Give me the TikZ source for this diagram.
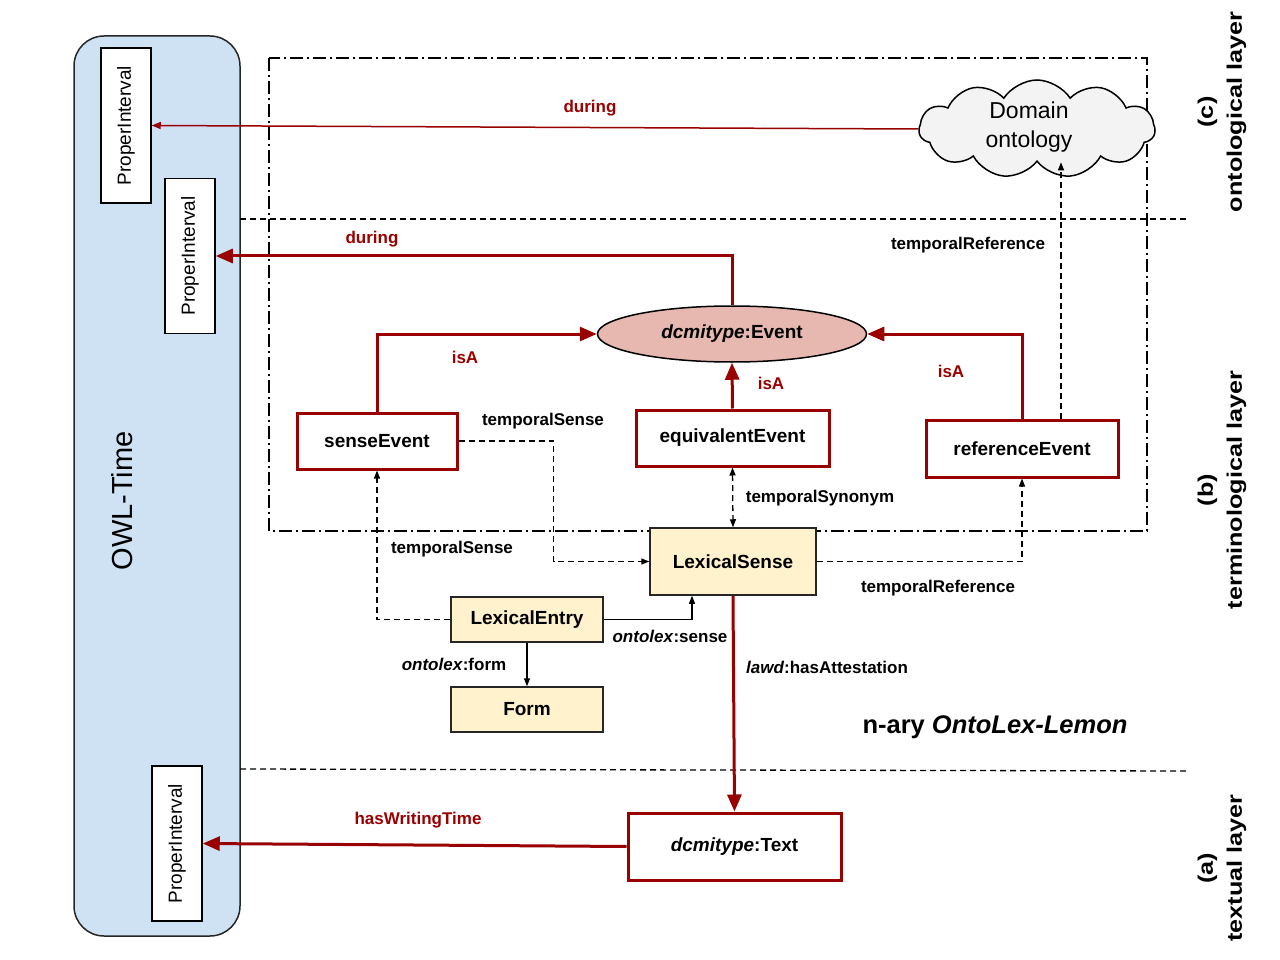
\documentclass[tikz,border=0pt]{standalone}
\usepackage{fontspec}
\setmainfont{Liberation Sans}
\usetikzlibrary{arrows.meta,shapes.geometric,shapes.symbols}
\definecolor{dred}{HTML}{990000}
\definecolor{owlfill}{HTML}{CFE2F3}
\definecolor{lexfill}{HTML}{FFF2CC}
\definecolor{evfill}{HTML}{E6B8AF}
\definecolor{cloudfill}{HTML}{F3F3F3}
\begin{document}
\begin{tikzpicture}[x=1pt,y=-1pt,
  lab/.style={font=\fontsize{17}{20}\selectfont\bfseries, inner sep=0},
  rlab/.style={lab,text=dred},
  evbox/.style={draw=dred,line width=3pt,fill=white,font=\fontsize{19}{22}\selectfont\bfseries,inner sep=0},
  lexbox/.style={draw=black!85,line width=1.5pt,fill=lexfill,font=\fontsize{19}{22}\selectfont\bfseries,inner sep=0},
  pibox/.style={draw=black,line width=1.5pt,fill=white,rotate=90,minimum width=155pt,minimum height=50pt,inner sep=0,font=\fontsize{19}{22}\selectfont},
  thickred/.style={draw=dred,line width=3pt,-{Triangle[length=17pt,width=14pt]}},
  thinred/.style={draw=dred,line width=1.5pt,-{Triangle[length=9pt,width=7pt]}},
  dsh/.style={draw=black,line width=1.3pt,dash pattern=on 6pt off 4pt,-{Triangle[length=8pt,width=6pt]}},
  solidarrow/.style={draw=black,line width=1.3pt,-{Triangle[length=8pt,width=6pt]}},
  sep/.style={draw=black,line width=1.3pt,dash pattern=on 6pt off 4pt},
  layerlab/.style={rotate=90,align=center,font=\fontsize{21}{29}\selectfont\bfseries,inner sep=0},
]
\useasboundingbox (0,0) rectangle (1280,960);

% OWL-Time container
\node[draw=black!85,line width=1.5pt,fill=owlfill,rounded corners=30pt,minimum width=166pt,minimum height=900pt,inner sep=0] (owl) at (157,486) {};
\node[rotate=90,font=\fontsize{29}{34}\selectfont,inner sep=0] (owltxt) at (122,501) {OWL-Time};

\node[pibox] (pi1) at (126,125.5) {ProperInterval};
\node[pibox] (pi2) at (190,256) {ProperInterval};
\node[pibox] (pi3) at (177,843.5) {ProperInterval};

% layer separators
\coordinate (s1a) at (240,219); \coordinate (s1b) at (1188,219);
\coordinate (s2a) at (240,769); \coordinate (s2b) at (1188,771);
\draw[sep] (s1a) -- (s1b);
\draw[sep] (s2a) -- (s2b);

% dash-dot frame
\draw[black,line width=1.3pt,dash pattern=on 13pt off 4pt on 2pt off 4pt] (269,58) rectangle (1147,531);

% nodes
\node[cloud,cloud puffs=11,cloud puff arc=115,draw=black,line width=1.5pt,fill=cloudfill,minimum width=236pt,minimum height=98pt,cloud ignores aspect,inner sep=0] (dom) at (1037,129) {};
\node[align=center,font=\fontsize{23}{29}\selectfont,inner sep=0] (domtxt) at (1029,127) {Domain\\ontology};

\node[ellipse,draw=black,line width=1.5pt,fill=evfill,minimum width=269pt,minimum height=56pt,inner sep=0,font=\fontsize{19}{22}\selectfont\bfseries] (ev) at (732,334) {\textit{dcmitype}:Event};

\node[evbox,minimum width=160pt,minimum height=56pt] (se) at (377,441) {senseEvent};
\node[evbox,minimum width=193pt,minimum height=56pt] (eq) at (732.5,438) {equivalentEvent};
\node[evbox,minimum width=192pt,minimum height=57pt] (re) at (1022,448.5) {referenceEvent};

\node[lexbox,minimum width=166pt,minimum height=67pt] (ls) at (733,561.5) {LexicalSense};
\node[lexbox,minimum width=152pt,minimum height=45pt] (le) at (527,619.5) {LexicalEntry};
\node[lexbox,minimum width=152pt,minimum height=45pt] (form) at (527,709.5) {Form};

\node[evbox,minimum width=213pt,minimum height=67pt] (txt) at (734.5,846.5) {\textit{dcmitype}:Text};

% connectors
\draw[thinred] (dom.west) -- (pi1.south);
\draw[thickred] (ev.north) |- (pi2.south);
\draw[thickred] (se.north) |- (ev.west);
\draw[thickred] (eq.north) -- (ev.south);
\draw[thickred] (re.north) |- (ev.east);

\draw[dsh] (se.east) -- ++(95,0) |- (ls.west);
\draw[dsh] (le.west) -| (se.south);
\draw[dsh,{Triangle[length=8pt,width=6pt]}-{Triangle[length=8pt,width=6pt]}] (eq.south) -- (ls.north);
\draw[dsh] (ls.east) -| (re.south);
\draw[dsh] ([xshift=39pt]re.north) -- ([xshift=39pt]re.north |- dom.south);

\draw[solidarrow] (le.east) -| ([xshift=-41pt]ls.south);
\draw[solidarrow] (le.south) -- (form.north);

\draw[thickred] (ls.south) -- (txt.north);
\draw[thickred] (txt.west) -- (pi3.south);

% labels
\node[rlab] (l1) at (590,108) {during};
\node[rlab] (l2) at (372,239) {during};
\node[rlab] (l3) at (465,357) {isA};
\node[rlab] (l4) at (771,383) {isA};
\node[rlab] (l5) at (951,371) {isA};
\node[lab] (l6) at (543,421) {temporalSense};
\node[lab] (l7) at (452,549) {temporalSense};
\node[lab] (l8) at (820,498) {temporalSynonym};
\node[lab] (l9) at (938,588) {temporalReference};
\node[lab] (l10) at (968,245) {temporalReference};
\node[lab] (l11) at (670,636) {\textit{ontolex}:sense};
\node[lab] (l12) at (454,664) {\textit{ontolex}:form};
\node[lab] (l13) at (827,667) {\textit{lawd}:hasAttestation};
\node[rlab] (l14) at (418,820) {hasWritingTime};
\node[font=\fontsize{25.5}{30}\selectfont\bfseries,inner sep=0] (nary) at (995,727) {n-ary \textit{OntoLex-Lemon}};

% layer labels
\node[layerlab] (lc) at (1222,112) {\scalebox{1.2}[1]{(c)}\\\scalebox{1.2}[1]{ontological layer}};
\node[layerlab] (lb) at (1222,490) {\scalebox{1.2}[1]{(b)}\\\scalebox{1.2}[1]{terminological layer}};
\node[layerlab] (la) at (1222,868) {\scalebox{1.2}[1]{(a)}\\\scalebox{1.2}[1]{textual layer}};
\end{tikzpicture}
\end{document}
